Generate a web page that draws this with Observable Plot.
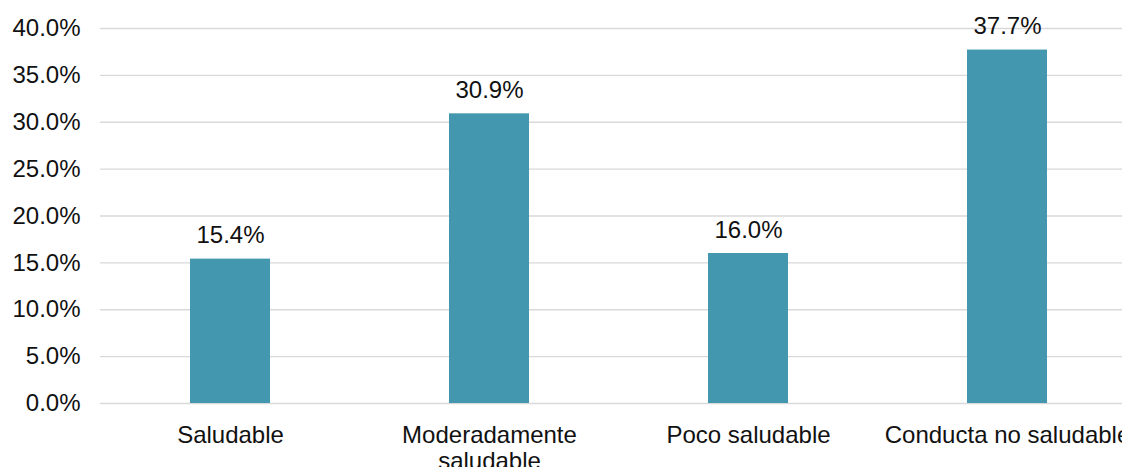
<!DOCTYPE html>
<html>
<head>
<meta charset="utf-8">
<script src="https://cdn.jsdelivr.net/npm/d3@7"></script>
<script src="https://cdn.jsdelivr.net/npm/@observablehq/plot@0.6"></script>
<style>
  html, body { margin: 0; padding: 0; background: #fff; overflow: hidden; }
  #chart svg { display: block; max-width: none !important; }
</style>
</head>
<body>
<div id="chart"></div>
<script>
// Categorías de conducta y porcentaje de cada una
const categories = ["Saludable", "Moderadamente saludable", "Poco saludable", "Conducta no saludable"];
const axisLabels = ["Saludable", "Moderadamente\nsaludable", "Poco saludable", "Conducta no saludable"];
const percentages = [15.4, 30.9, 16.0, 37.7];
const yTicks = [0, 5, 10, 15, 20, 25, 30, 35, 40];

const rows = categories.map((c, i) => ({category: c, value: percentages[i]}));
const labelOf = new Map(categories.map((c, i) => [c, axisLabels[i]]));
const pct = v => v.toFixed(1) + "%";

const chart = Plot.plot({
  width: 1137,
  height: 467,
  marginLeft: 100,
  marginRight: 0,
  marginTop: 28,
  marginBottom: 64,
  style: {fontFamily: "'Liberation Sans', Arial, sans-serif", fontSize: "24px", color: "#111", background: "#fff", overflow: "visible", maxWidth: "none"},
  x: {domain: categories, paddingInner: 0.69, paddingOuter: 0.345, label: null},
  y: {domain: [0, 40], label: null},
  marks: [
    Plot.gridY(yTicks, {stroke: "#d9d9d9", strokeOpacity: 1, strokeWidth: 1.4}),
    Plot.barY(rows, {x: "category", y: "value", fill: "#4398b0"}),
    Plot.text(rows, {x: "category", y: "value", text: d => pct(d.value), dy: -16, lineAnchor: "bottom", fill: "#111", fontSize: 24}),
    Plot.axisY(yTicks, {tickSize: 0, tickPadding: 20, tickFormat: pct, fontSize: 24, fill: "#111"}),
    Plot.axisX({tickSize: 0, tickPadding: 20, tickFormat: c => labelOf.get(c), lineHeight: 1.12, fontSize: 24, fill: "#111"})
  ]
});
document.getElementById("chart").appendChild(chart);
</script>
</body>
</html>
